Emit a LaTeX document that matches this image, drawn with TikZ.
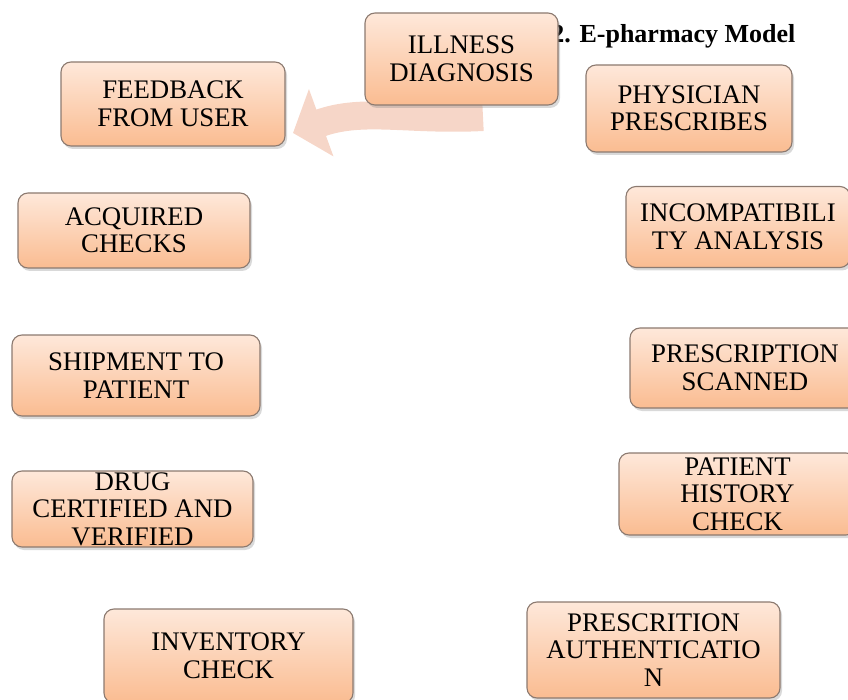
\documentclass[tikz,border=0pt]{standalone}
\usepackage{fontspec}
\setmainfont{Liberation Serif}
\usepackage{tikz}
\usetikzlibrary{shadows,arrows.meta}
\definecolor{boxtop}{RGB}{254,232,218}
\definecolor{boxbot}{RGB}{250,188,145}
\definecolor{boxline}{RGB}{140,122,112}
\definecolor{arrowfill}{RGB}{246,214,200}
\tikzstyle{stage}=[rectangle,rounded corners=10pt,draw=boxline,line width=1.1pt,top color=boxtop,bottom color=boxbot,drop shadow={shadow xshift=2pt,shadow yshift=-3pt,opacity=0.3},align=center,inner sep=0pt,font=\fontsize{26.8}{27.5}\selectfont]

\begin{document}
\begin{tikzpicture}[x=1pt,y=-1pt]
		\tikzstyle{flowarrow}=[line width=28pt,draw=arrowfill,-{Triangle[length=30pt,width=70pt]}]
		\useasboundingbox (0,0) rectangle (848,700);
		\node[anchor=base east,font=\fontsize{26}{28}\selectfont\bfseries] at (799,43) (title) {2. E-pharmacy Model};
		% curved arrow back to the user
		\coordinate (arrstart) at (483,117);
		\coordinate (arrtip) at (293,133);
		\draw[flowarrow] (arrstart) to[out=183,in=20] (arrtip);
		\node[stage,minimum width=193pt,minimum height=92pt] at (461.5,59) (illness) {ILLNESS\\DIAGNOSIS};
		\node[stage,minimum width=206pt,minimum height=87pt] at (689,108.5) (physician) {PHYSICIAN\\PRESCRIBES};
		\node[stage,minimum width=224pt,minimum height=84pt] at (173,104) (feedback) {FEEDBACK\\FROM USER};
		\node[stage,minimum width=232pt,minimum height=75pt] at (134,230.5) (acquired) {ACQUIRED\\CHECKS};
		\node[stage,minimum width=224pt,minimum height=81pt] at (738,227) (incompat) {INCOMPATIBILI\\TY ANALYSIS};
		\node[stage,minimum width=248pt,minimum height=81pt] at (136,375.5) (shipment) {SHIPMENT TO\\PATIENT};
		\node[stage,minimum width=230pt,minimum height=80pt] at (745,368) (scanned) {PRESCRIPTION\\SCANNED};
		\node[stage,minimum width=241pt,minimum height=76pt] at (132.5,509) (drug) {DRUG\\CERTIFIED AND\\VERIFIED};
		\node[stage,minimum width=237pt,minimum height=82pt] at (737.5,494) (history) {PATIENT\\HISTORY\\CHECK};
		\node[stage,minimum width=249pt,minimum height=94pt] at (228.5,656) (inventory) {INVENTORY\\CHECK};
		\node[stage,minimum width=253pt,minimum height=96pt] at (653.5,650) (authent) {PRESCRITION\\AUTHENTICATIO\\N};
		\end{tikzpicture}
\end{document}
